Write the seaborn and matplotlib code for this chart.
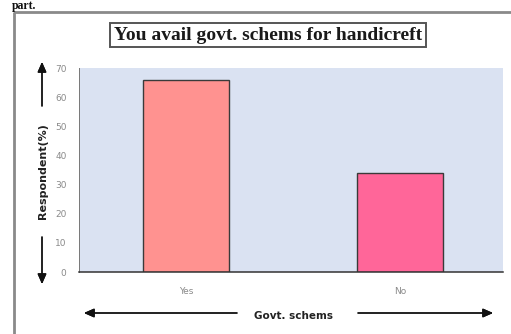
import matplotlib
matplotlib.use("Agg")
import matplotlib.pyplot as plt
import seaborn as sns
import pandas as pd
from matplotlib.patches import Rectangle

# Survey answers and share of respondents (%)
categories = ["Yes", "No"]
respondents = [66, 34]
bar_colors = ["#FF9290", "#FF6699"]
y_ticks = [0, 10, 20, 30, 40, 50, 60, 70]

title_text = "You avail govt. schems for handicreft"
x_label = "Govt. schems"
y_label = "Respondent(%)"

sns.set_theme(style="white")

W, H = 511, 334
fig = plt.figure(figsize=(W / 100, H / 100), dpi=100)
fig.patch.set_facecolor("white")

def px(x, y):
    """Convert top-left pixel coordinates to figure fraction."""
    return x / W, 1 - y / H

# plot area
x0, y0 = px(79, 272)
x1, y1 = px(503, 68)
ax = fig.add_axes([x0, y0, x1 - x0, y1 - y0])
ax.set_facecolor("#DAE2F2")

df = pd.DataFrame({"answer": categories, "pct": respondents})
sns.barplot(data=df, x="answer", y="pct", hue="answer", palette=bar_colors,
            saturation=1, width=0.4, edgecolor="#3a3a3a", linewidth=1.0,
            legend=False, ax=ax)

ax.set_xlim(-0.5, 1.48)
ax.set_ylim(0, 70)
ax.set_yticks(y_ticks)
ax.set_yticklabels([str(t) for t in y_ticks])
ax.tick_params(axis="both", length=0, labelsize=6.5, labelcolor="#8a8a8a")
ax.tick_params(axis="x", pad=11)
ax.tick_params(axis="y", pad=9)
ax.set_xlabel("")
ax.set_ylabel("")
for s in ["top", "right"]:
    ax.spines[s].set_visible(False)
ax.spines["bottom"].set_color("#333333")
ax.spines["bottom"].set_linewidth(1.1)
ax.spines["left"].set_color("#777777")
ax.spines["left"].set_linewidth(0.7)

# outer frame of the figure panel
fx, fy = px(14, 12)
frame = Rectangle((fx, fy), 1.2, -1.2, transform=fig.transFigure,
                  fill=False, edgecolor="#8a8a8a", linewidth=2.0, clip_on=False)
fig.add_artist(frame)

# text above the frame
tx, ty = px(12, 0.5)
fig.text(tx, ty, "part.", fontsize=8.5, fontweight="bold",
         family="Liberation Serif", ha="left", va="top", color="#111111")

# boxed title
cx, cy = px(268, 35)
fig.text(cx, cy, title_text, fontsize=14, fontweight="bold",
         family="Liberation Serif", ha="center", va="center", color="#1a1a1a",
         bbox=dict(boxstyle="square,pad=0.2", facecolor="white",
                   edgecolor="#555555", linewidth=1.4))

# y-axis label with arrows
lx, ly = px(43, 171)
fig.text(lx, ly, y_label, rotation=90, fontsize=8, fontweight="bold",
         ha="center", va="center", color="#222222")
arrow = dict(arrowstyle="-|>,head_length=0.5,head_width=0.22", color="#111111",
             linewidth=1.0, shrinkA=0, shrinkB=0)
fig.add_artist(plt.annotate("", xy=px(42, 62), xytext=px(42, 106),
                            xycoords="figure fraction", arrowprops=arrow))
fig.add_artist(plt.annotate("", xy=px(42, 284), xytext=px(42, 237),
                            xycoords="figure fraction", arrowprops=arrow))

# x-axis label with arrows
gx, gy = px(293, 316)
fig.text(gx, gy, x_label, fontsize=7.5, fontweight="bold",
         ha="center", va="center", color="#222222")
fig.add_artist(plt.annotate("", xy=px(84, 313), xytext=px(237, 313),
                            xycoords="figure fraction", arrowprops=arrow))
fig.add_artist(plt.annotate("", xy=px(493, 313), xytext=px(358, 313),
                            xycoords="figure fraction", arrowprops=arrow))

fig.savefig("out.png", dpi=100)
